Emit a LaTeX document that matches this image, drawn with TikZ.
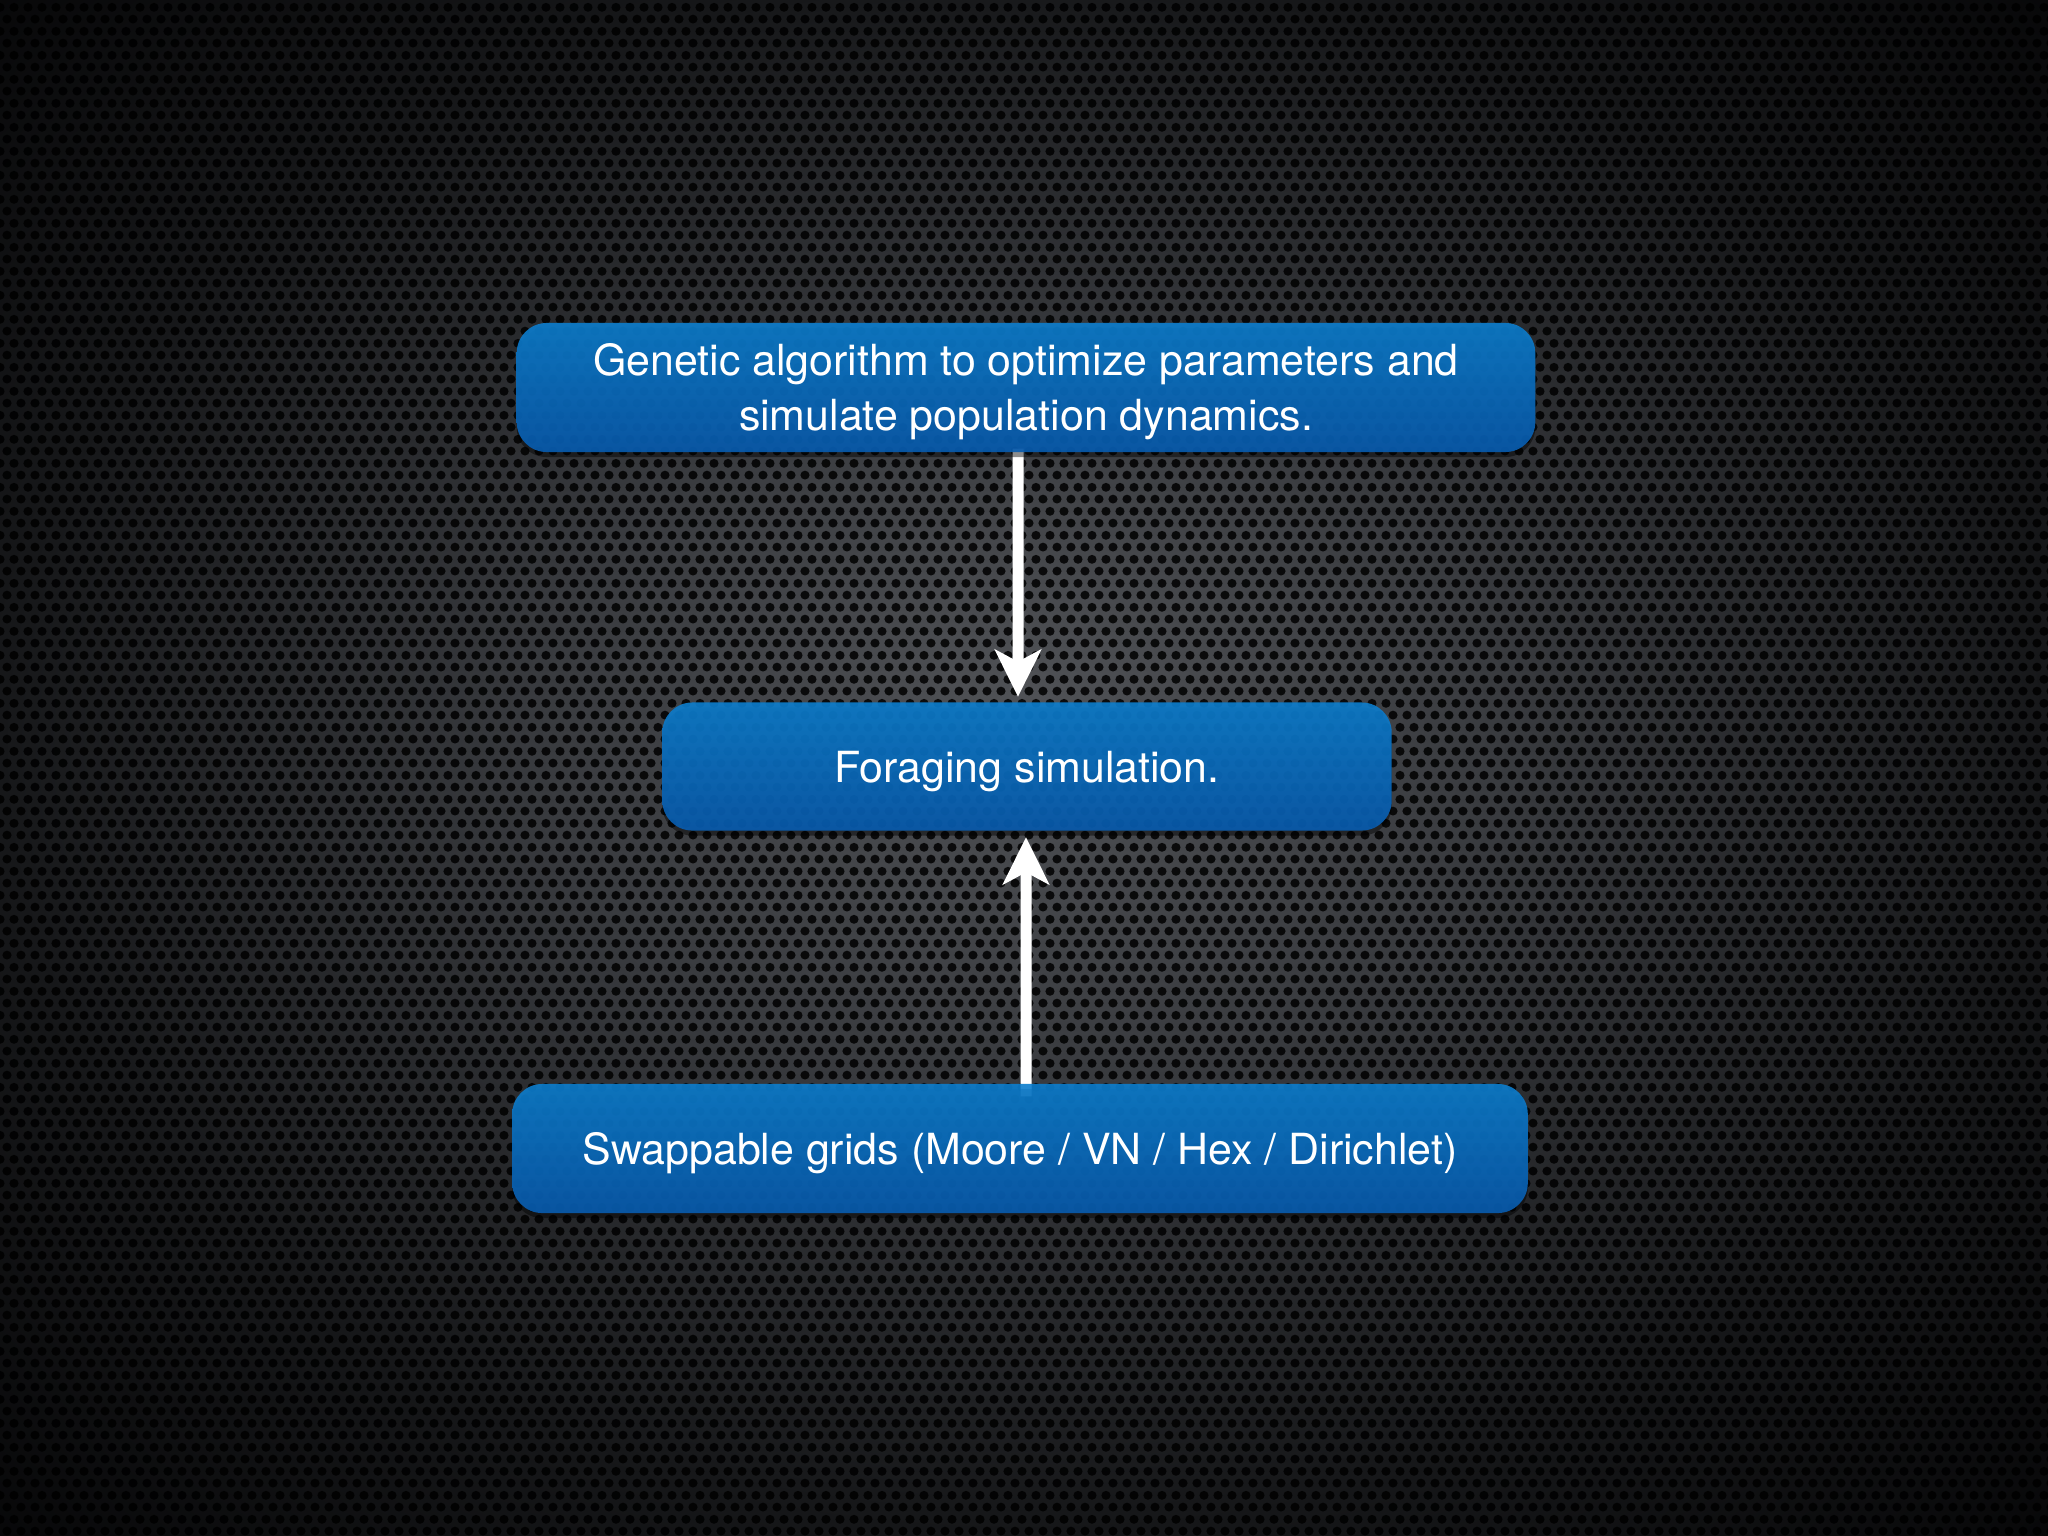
\documentclass[tikz,border=0pt]{standalone}
\usepackage{fontspec}
\setmainfont{TeX Gyre Heros}
\usetikzlibrary{arrows.meta,shadows,patterns.meta}
\definecolor{bgA}{RGB}{80,82,86}
\definecolor{bgB}{RGB}{56,58,62}
\definecolor{bgC}{RGB}{22,23,25}
\definecolor{bgD}{RGB}{4,4,5}
\definecolor{boxtop}{RGB}{12,126,206}
\definecolor{boxbot}{RGB}{8,92,176}
\pgfdeclareradialshading{bgshade}{\pgfpoint{0bp}{2bp}}{color(0bp)=(bgA); color(12bp)=(bgB); color(25bp)=(bgC); color(38bp)=(bgD)}
\pgfdeclarepattern{
  name=holes, type=uncolored,
  bottom left={\pgfpoint{0pt}{0pt}}, top right={\pgfpoint{3.98pt}{6.9pt}},
  tile size={\pgfpoint{3.98pt}{6.9pt}},
  code={
    \pgfpathcircle{\pgfpoint{1.99pt}{1.725pt}}{1.3pt}
    \pgfpathcircle{\pgfpoint{0pt}{5.175pt}}{1.3pt}
    \pgfpathcircle{\pgfpoint{3.98pt}{5.175pt}}{1.3pt}
    \pgfusepath{fill}
  }
}
\pgfdeclarelayer{back}
\pgfdeclarelayer{mid}
\pgfsetlayers{back,mid,main}
\tikzset{
  box/.style={rounded corners=0.3cm, minimum height=1.29cm, inner sep=0pt,
    text=white, top color=boxtop, bottom color=boxbot, fill opacity=0.9, text opacity=1,
    font=\fontsize{12.2pt}{15.4pt}\selectfont, text height=0.31cm, text depth=0cm, align=center,
    drop shadow={shadow xshift=0cm, shadow yshift=-0.05cm, opacity=0.45, fill=black}},
  arr/.style={draw=white, line width=0.11cm, -{Stealth[length=0.47cm, width=0.46cm, inset=0.12cm]}}
}
\begin{document}
\begin{tikzpicture}[x=0.01cm, y=-0.01cm]
\useasboundingbox (0,0) rectangle (2048,1536);
\begin{pgfonlayer}{back}
\fill[shading=bgshade] (0,0) rectangle (2048,1536);
\fill[pattern=holes, pattern color=black, fill opacity=0.85] (0,0) rectangle (2048,1536);
\end{pgfonlayer}
\node[box, minimum width=10.18cm, text height=0.85cm] (g) at (1026,387.5)
  {Genetic algorithm to optimize parameters and\\simulate population dynamics.};
\node[box, minimum width=7.29cm, minimum height=1.28cm] (f) at (1027,766.5) {Foraging simulation.};
\node[box, minimum width=10.15cm] (s) at (1020,1148.5) {Swappable grids (Moore / VN / Hex / Dirichlet)};
\begin{pgfonlayer}{mid}
\draw[arr] ([xshift=-0.08cm, yshift=0.04cm]g.south) -- ([xshift=-0.09cm, yshift=0.05cm]f.north);
\draw[arr] ([xshift=0.06cm, yshift=-0.13cm]s.north) -- ([xshift=-0.01cm, yshift=-0.06cm]f.south);
\end{pgfonlayer}
\end{tikzpicture}
\end{document}
